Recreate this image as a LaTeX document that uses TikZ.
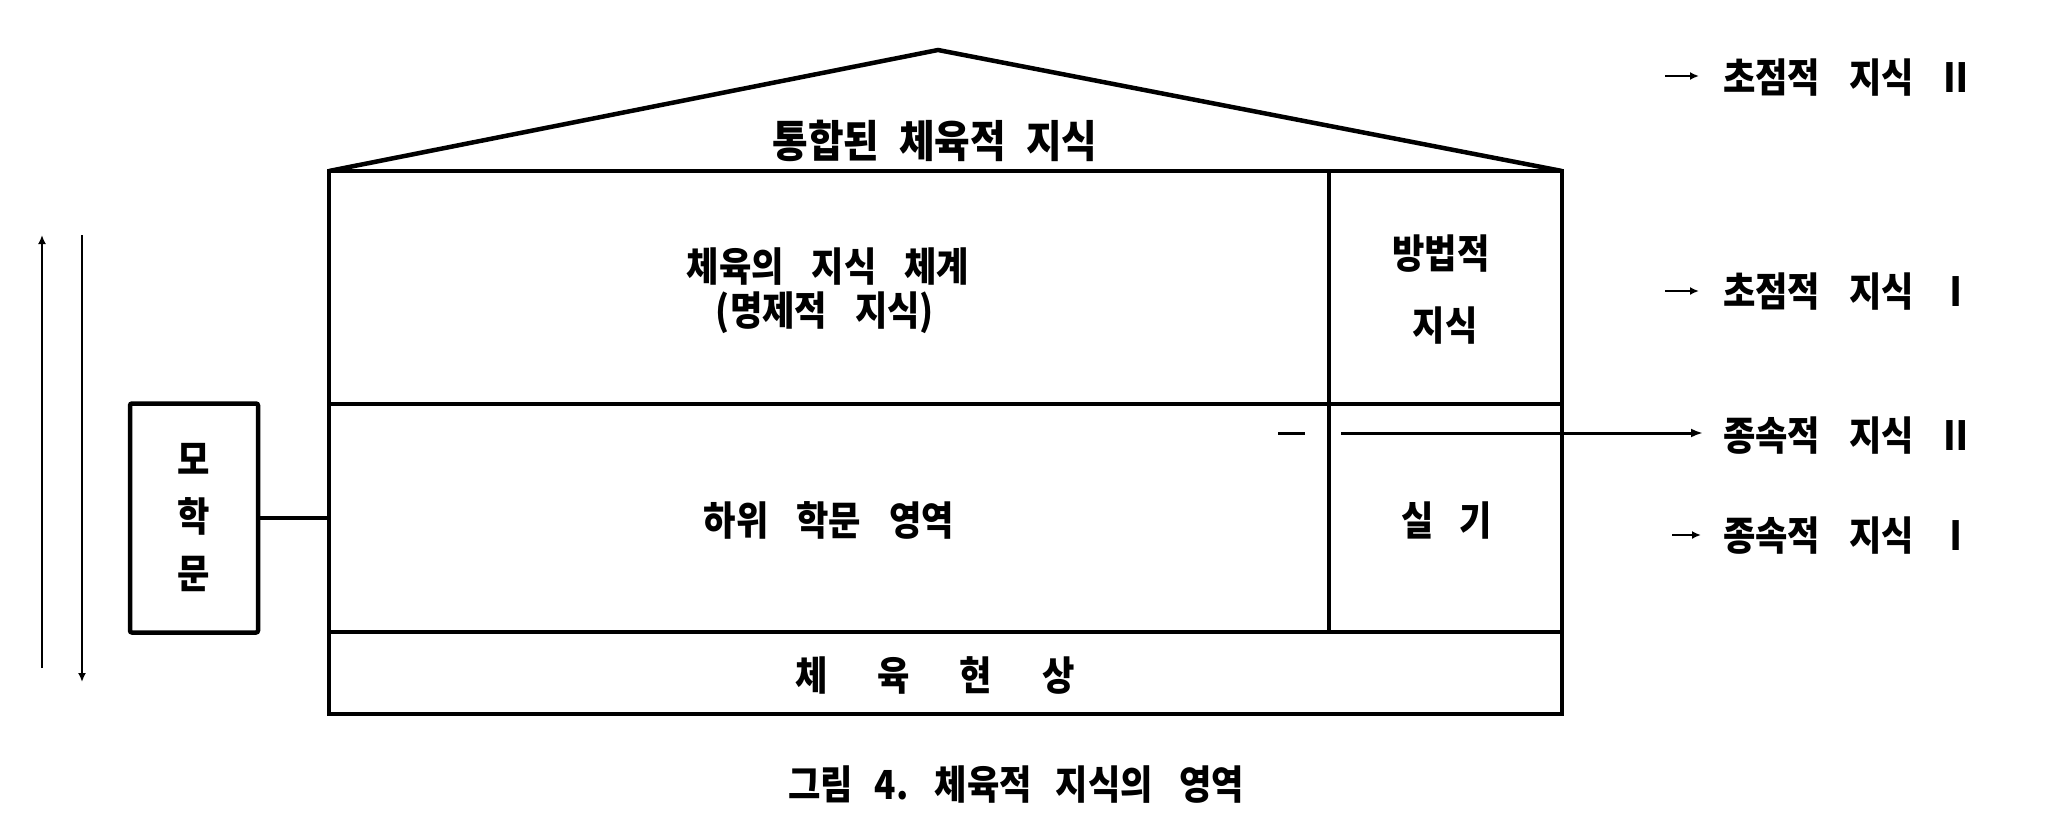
\documentclass[tikz,border=0pt]{standalone}
\usepackage{fontspec}
\setmainfont{Noto Sans CJK KR}[FakeStretch=0.88]
\usetikzlibrary{arrows.meta}
\newcommand{\wsp}{\hspace{28pt}}
\begin{document}
\begin{tikzpicture}[x=1pt,y=-1pt,
  outline/.style={line width=4.5pt},
  inner/.style={line width=4pt},
  txt/.style={font=\fontsize{40}{48}\selectfont\bfseries, inner sep=0pt},
  lbl/.style={font=\fontsize{40}{48}\selectfont\bfseries, inner sep=0pt, anchor=west},
  arr/.style={line width=3pt,-{Latex[length=12pt,width=9pt]}},
  sarr/.style={line width=2.5pt,-{Latex[length=9pt,width=8pt]}},
]
\useasboundingbox (0,0) rectangle (2048,825);
% house
\coordinate (TL) at (329,171);
\coordinate (TR) at (1562,171);
\coordinate (BL) at (329,714);
\coordinate (BR) at (1562,714);
\coordinate (apex) at (938,50);
\draw[outline] (TL) rectangle (BR);
\draw[outline, line join=miter] (TL) -- (apex) -- (TR);
\coordinate (m1L) at (329,404);
\coordinate (m1R) at (1562,404);
\coordinate (m2L) at (329,632);
\coordinate (m2R) at (1562,632);
\coordinate (dvT) at (1329,171);
\coordinate (dvB) at (1329,632);
\draw[inner] (m1L) -- (m1R);
\draw[inner] (m2L) -- (m2R);
\draw[inner] (dvT) -- (dvB);
\coordinate (dA) at (1278,433);
\coordinate (dB) at (1305,433);
\draw[line width=3pt] (dA) -- (dB);
% texts in house
\node[txt, font=\fontsize{44}{52}\selectfont\bfseries] (roof) at (935,141) {통합된\hspace{20pt}체육적\hspace{20pt}지식};
\node[txt] (sys1) at (828,267) {체육의\wsp 지식\wsp 체계};
\node[txt] (sys2) at (825,313) {(명제적\wsp 지식)};
\node[txt] (meth1) at (1441,254) {방법적};
\node[txt] (meth2) at (1445,326) {지식};
\node[txt] (sub) at (829,520) {하위\wsp 학문\wsp 영역};
\node[txt] (prac) at (1447,520) {실\hspace{26pt}기};
\node[txt] (phen) at (935,675) {체\hspace{50pt}육\hspace{50pt}현\hspace{50pt}상};
\node[txt] (cap) at (1016,785) {그림\hspace{22pt}4.\hspace{26pt}체육적\hspace{24pt}지식의\hspace{26pt}영역};
% parent discipline box
\node[draw, outline, rounded corners=2pt, minimum width=128pt, minimum height=229pt,
      align=center, inner sep=0pt, font=\fontsize{40}{57}\selectfont\bfseries] (mo) at (194,518) {모\\학\\문};
\coordinate (boxL) at (329,518);
\draw[inner] (mo.east) -- (boxL);
% left arrows
\coordinate (upB) at (42,668);
\coordinate (upT) at (42,235);
\coordinate (dnT) at (82,235);
\coordinate (dnB) at (82,682);
\draw[sarr] (upB) -- (upT);
\draw[sarr] (dnT) -- (dnB);
% right labels
\node[lbl] (r1) at (1723,78) {초점적\hspace{29pt}지식\hspace{24pt}\makebox[36pt]{Ⅱ}};
\node[lbl] (r2) at (1723,292) {초점적\hspace{29pt}지식\hspace{24pt}\makebox[36pt]{Ⅰ}};
\node[lbl] (r3) at (1723,436) {종속적\hspace{29pt}지식\hspace{24pt}\makebox[36pt]{Ⅱ}};
\node[lbl] (r4) at (1723,536) {종속적\hspace{29pt}지식\hspace{24pt}\makebox[36pt]{Ⅰ}};
\coordinate (a1) at (1665,76);
\coordinate (a2) at (1665,291);
\coordinate (a3) at (1341,433);
\coordinate (a4) at (1672,535);
\draw[sarr] (a1) -- ([xshift=-24pt]r1.west |- a1);
\draw[sarr] (a2) -- ([xshift=-24pt]r2.west |- a2);
\draw[arr] (a3) -- ([xshift=-20pt]r3.west |- a3);
\draw[sarr] (a4) -- ([xshift=-22pt]r4.west |- a4);
\end{tikzpicture}
\end{document}
